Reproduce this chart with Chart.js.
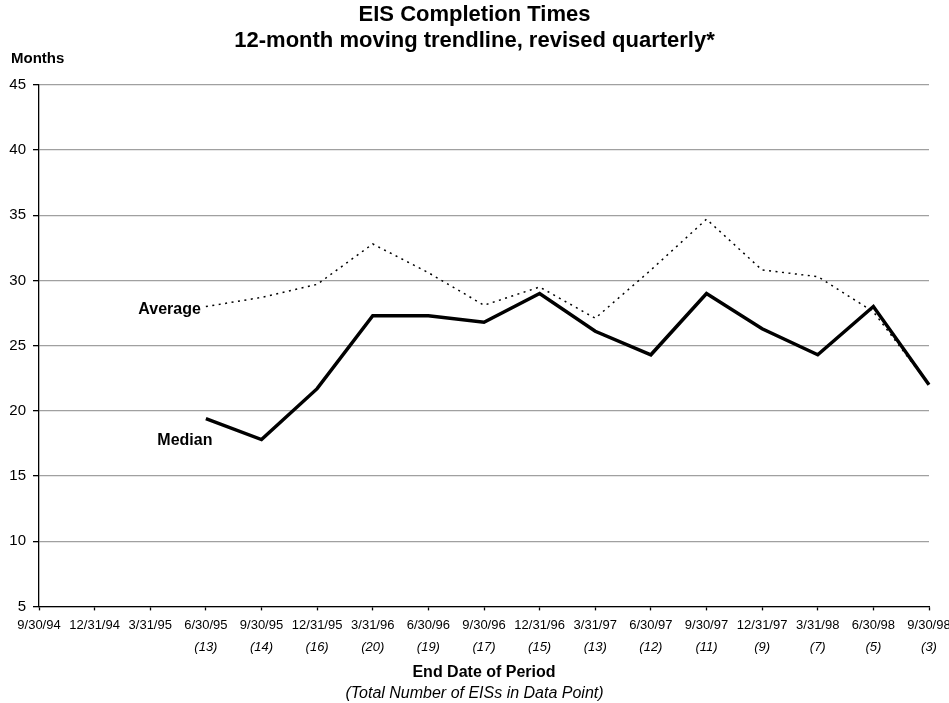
<!DOCTYPE html>
<html>
<head>
<meta charset="utf-8">
<title>EIS Completion Times</title>
<script src="https://cdn.jsdelivr.net/npm/chart.js@4.4.1/dist/chart.umd.min.js"></script>
<style>
  html, body { margin: 0; padding: 0; background: #fff; }
  #wrap { width: 949px; height: 703px; position: relative; }
</style>
</head>
<body>
<div id="wrap"><canvas id="mycanvas"></canvas></div>
<script>
// quarter end dates and the number of EISs behind each point
var periods = ["9/30/94", "12/31/94", "3/31/95", "6/30/95", "9/30/95", "12/31/95", "3/31/96", "6/30/96",
  "9/30/96", "12/31/96", "3/31/97", "6/30/97", "9/30/97", "12/31/97", "3/31/98", "6/30/98", "9/30/98"];
var eis_counts = ["", "", "", "(13)", "(14)", "(16)", "(20)", "(19)",
  "(17)", "(15)", "(13)", "(12)", "(11)", "(9)", "(7)", "(5)", "(3)"];

// months, 12-month moving values
var median_months = [null, null, null, 19.4, 17.8, 21.7, 27.3, 27.3,
  26.8, 29.0, 26.1, 24.3, 29.0, 26.3, 24.3, 28.0, 22.0];
var average_months = [null, null, null, 28.0, 28.7, 29.7, 32.8, 30.6,
  28.1, 29.5, 27.1, 30.8, 34.7, 30.8, 30.3, 27.6, 22.0];

var y_min = 5, y_max = 45, y_step = 5;

Chart.defaults.font.family = "'Liberation Sans', Arial, sans-serif";
Chart.defaults.color = "#000";

// series names written beside the start of each line, plus the y unit
var lineLabels = {
  id: "lineLabels",
  afterDatasetsDraw: function(chart) {
    var ctx = chart.ctx;
    var x = chart.scales.x, y = chart.scales.y;
    var first = 3;
    ctx.save();
    ctx.fillStyle = "#000";
    ctx.textBaseline = "middle";
    ctx.font = "bold 16px 'Liberation Sans', Arial, sans-serif";

    ctx.textAlign = "right";
    ctx.fillText("Average", x.getPixelForValue(first) - 5, y.getPixelForValue(average_months[first]) + 3);

    ctx.textAlign = "center";
    ctx.fillText("Median", x.getPixelForValue(first) - 21, y.getPixelForValue(median_months[first]) + 22);

    ctx.textAlign = "left";
    ctx.font = "bold 15px 'Liberation Sans', Arial, sans-serif";
    ctx.fillText("Months", 11, chart.chartArea.top - 26);
    ctx.restore();
  }
};

var chartdata = {
  labels: periods,
  datasets: [
    {
      label: "Average",
      data: average_months,
      fill: false,
      lineTension: 0,
      borderColor: "#000",
      borderWidth: 1.5,
      borderDash: [2, 4.5],
      pointRadius: 0,
      spanGaps: false
    },
    {
      label: "Median",
      data: median_months,
      fill: false,
      lineTension: 0,
      borderColor: "#000",
      borderWidth: 3.5,
      borderJoinStyle: "miter",
      pointRadius: 0,
      spanGaps: false
    }
  ]
};

var ctx = document.getElementById("mycanvas");

var LineGraph = new Chart(ctx, {
  type: "line",
  data: chartdata,
  plugins: [lineLabels],
  options: {
    responsive: true,
    maintainAspectRatio: false,
    animation: false,
    layout: { padding: { left: 0, right: 0, top: 0, bottom: 0 } },
    plugins: {
      legend: { display: false },
      tooltip: { enabled: false },
      title: {
        display: true,
        text: ["EIS Completion Times", "12-month moving trendline, revised quarterly*"],
        color: "#000",
        font: { size: 22, weight: "bold", lineHeight: 1.18 },
        padding: { top: 2, bottom: 31 }
      },
      subtitle: {
        display: true,
        position: "bottom",
        text: "(Total Number of EISs in Data Point)",
        color: "#000",
        font: { size: 16, style: "italic", lineHeight: 1.2 },
        padding: { top: 0, bottom: 0 }
      }
    },
    scales: {
      x: {
        type: "category",
        offset: false,
        grid: { drawOnChartArea: false, drawTicks: true, tickLength: 4, tickColor: "#000", tickWidth: 1.3 },
        border: { color: "#000", width: 1.3 },
        ticks: { autoSkip: false, maxRotation: 0, minRotation: 0, padding: 7, font: { size: 13 } },
        afterFit: function(scale) { scale.paddingRight = 20; }
      },
      x2: {
        type: "category",
        position: "bottom",
        labels: eis_counts,
        offset: false,
        grid: { display: false, drawTicks: false },
        border: { display: false },
        ticks: { autoSkip: false, maxRotation: 0, minRotation: 0, padding: 0, font: { size: 13, style: "italic" } },
        title: {
          display: true,
          text: "End Date of Period",
          color: "#000",
          font: { size: 16, weight: "bold", lineHeight: 1.2 },
          padding: { top: 7, bottom: 2 }
        },
        afterFit: function(scale) { scale.paddingRight = 20; }
      },
      y: {
        min: y_min,
        max: y_max,
        grid: { color: "#a0a0a0", lineWidth: 1.3, drawTicks: true, tickLength: 6, tickColor: "#000", tickWidth: 1.3 },
        border: { color: "#000", width: 1.3 },
        ticks: { stepSize: y_step, padding: 7, font: { size: 15 } },
        afterFit: function(scale) { scale.width = 39; }
      }
    }
  }
});
</script>
</body>
</html>
